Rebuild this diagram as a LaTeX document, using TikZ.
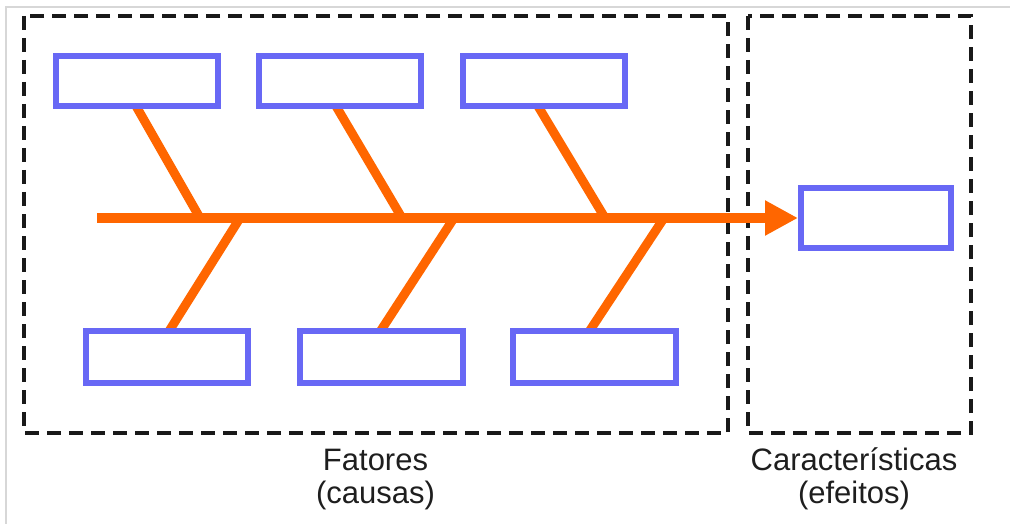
\documentclass[tikz,border=0pt]{standalone}
\usepackage{fontspec}
\setmainfont{Liberation Sans}
\usetikzlibrary{arrows.meta,backgrounds}
\definecolor{fishorange}{RGB}{255,102,0}
\definecolor{boxblue}{RGB}{104,104,245}
\definecolor{framegray}{RGB}{215,215,215}
\definecolor{txt}{RGB}{30,30,30}
\tikzset{
  causebox/.style={draw=boxblue, line width=6pt, fill=white, inner sep=0pt, minimum width=162pt, minimum height=50pt},
  effectbox/.style={draw=boxblue, line width=6pt, fill=white, inner sep=0pt, minimum width=150pt, minimum height=60pt},
  bone/.style={draw=fishorange, line width=9pt, shorten >=-4pt},
  spine/.style={draw=fishorange, line width=10pt, -{Triangle[length=33pt,width=33pt]}},
  region/.style={draw=black!90, line width=3.5pt, dash pattern=on 14pt off 8pt},
  label/.style={font=\fontsize{31}{33}\selectfont, text=txt, align=center, inner sep=0pt, anchor=base}
}
\begin{document}
\begin{tikzpicture}[x=1pt,y=-1pt]
\useasboundingbox (0,0) rectangle (1010,524);
\draw[framegray, line width=1.5pt] (6,524) -- (6,7) -- (1010,7);
% regions
\draw[region] (24,16) rectangle (728,433);
\draw[region] (748,16) rectangle (971,433);
% boxes
\node[causebox] (t1) at (137,81.5) {};
\node[causebox] (t2) at (340,81.5) {};
\node[causebox] (t3) at (544,81.5) {};
\node[causebox, minimum height=52pt] (b1) at (167,357) {};
\node[causebox, minimum height=52pt, minimum width=163pt] (b2) at (381.5,357) {};
\node[causebox, minimum height=52pt, minimum width=163pt] (b3) at (594.5,357) {};
\node[effectbox] (e) at (876,218) {};
% spine and bone joints
\coordinate (s0) at (97,218);
\coordinate (u1) at (200,218);
\coordinate (u2) at (402,218);
\coordinate (u3) at (605,218);
\coordinate (d1) at (240,218);
\coordinate (d2) at (454,218);
\coordinate (d3) at (664,218);
\begin{scope}[on background layer]
\draw[bone] (u1) -- ([xshift=1pt]t1.south);
\draw[bone] (u2) -- ([xshift=-2pt]t2.south);
\draw[bone] (u3) -- ([xshift=-4pt]t3.south);
\draw[bone] (d1) -- ([xshift=4pt]b1.north);
\draw[bone] (d2) -- ([xshift=1pt]b2.north);
\draw[bone] (d3) -- ([xshift=-3pt]b3.north);
\end{scope}
\draw[spine] (s0) -- (e.west);
% labels
\node[label] (f) at (375.5,503) {Fatores\\(causas)};
\node[label] (c) at (854,503) {Características\\(efeitos)};
\end{tikzpicture}
\end{document}
